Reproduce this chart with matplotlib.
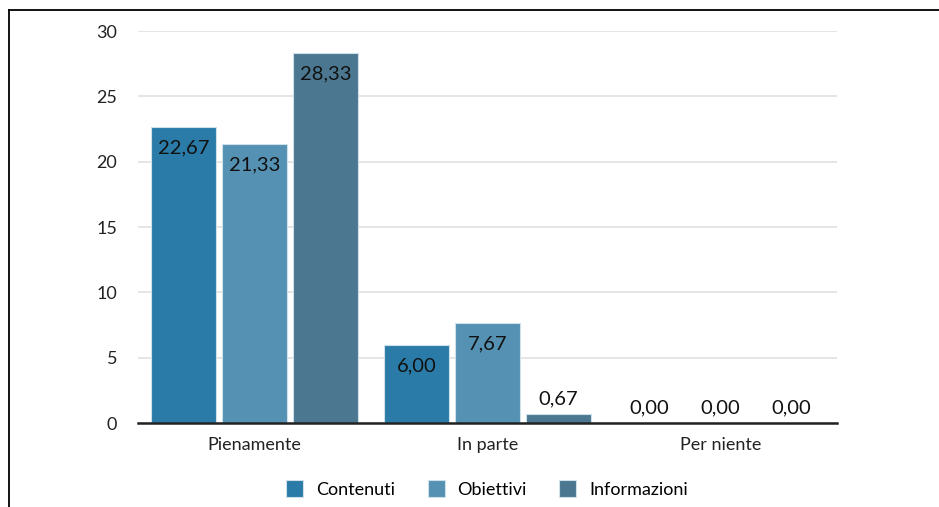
import matplotlib.pyplot as plt
import numpy as np

plt.rcParams['font.family'] = ['Lato', 'DejaVu Sans']

categories = ['Pienamente', 'In parte', 'Per niente']
series_names = ['Contenuti', 'Obiettivi', 'Informazioni']
contenuti = [22.67, 6.00, 0.00]
obiettivi = [21.33, 7.67, 0.00]
informazioni = [28.33, 0.67, 0.00]
colors = ['#2A7BA8', '#5591B3', '#4B7890']
y_ticks = [0, 5, 10, 15, 20, 25, 30]

fig = plt.figure(figsize=(9.39, 5.07), dpi=100)
ax = fig.add_axes([138 / 939, 1 - 423 / 507, 699 / 939, 392 / 507])

x = np.arange(len(categories))
width = 0.279
step = 0.305

for i, (name, vals) in enumerate(zip(series_names, [contenuti, obiettivi, informazioni])):
    pos = x + (i - 1) * step
    ax.bar(pos, vals, width, color=colors[i], edgecolor='#cfe0ea', linewidth=0.8,
           label=name, zorder=3)
    for p, v in zip(pos, vals):
        txt = f'{v:.2f}'.replace('.', ',')
        if v > 3:
            ax.annotate(txt, (p, v), xytext=(0, -9), textcoords='offset points',
                        ha='center', va='top', fontsize=14.5, color='#111111', zorder=4)
        else:
            ax.annotate(txt, (p, v), xytext=(0, 5), textcoords='offset points',
                        ha='center', va='bottom', fontsize=14.5, color='#111111', zorder=4)

ax.set_xlim(-0.5, 2.5)
ax.set_ylim(0, 30)
ax.set_yticks(y_ticks)
ax.set_xticks(x)
ax.set_xticklabels(categories)
ax.tick_params(axis='both', length=0, labelsize=13, colors='#222222')
ax.tick_params(axis='x', pad=10)
ax.tick_params(axis='y', pad=15)
ax.grid(axis='y', color='#e3e3e3', linewidth=1.3, zorder=0)
for s in ['top', 'right', 'left']:
    ax.spines[s].set_visible(False)
ax.spines['bottom'].set_color('#222222')
ax.spines['bottom'].set_linewidth(1.8)
ax.spines['bottom'].set_zorder(5)

ax.legend(loc='center', bbox_to_anchor=(487 / 939, 1 - 489 / 507),
          bbox_transform=fig.transFigure, ncol=3, frameon=False, fontsize=13,
          handlelength=0.95, handleheight=1.1, columnspacing=1.8, handletextpad=0.7)

# frame lines along the top and left edges
fig.add_artist(plt.Line2D([9 / 939, 1], [1 - 10 / 507, 1 - 10 / 507], color='black',
                          linewidth=1.3, transform=fig.transFigure))
fig.add_artist(plt.Line2D([9 / 939, 9 / 939], [0, 1 - 10 / 507], color='black',
                          linewidth=1.3, transform=fig.transFigure))

fig.savefig('out.png', dpi=100)
